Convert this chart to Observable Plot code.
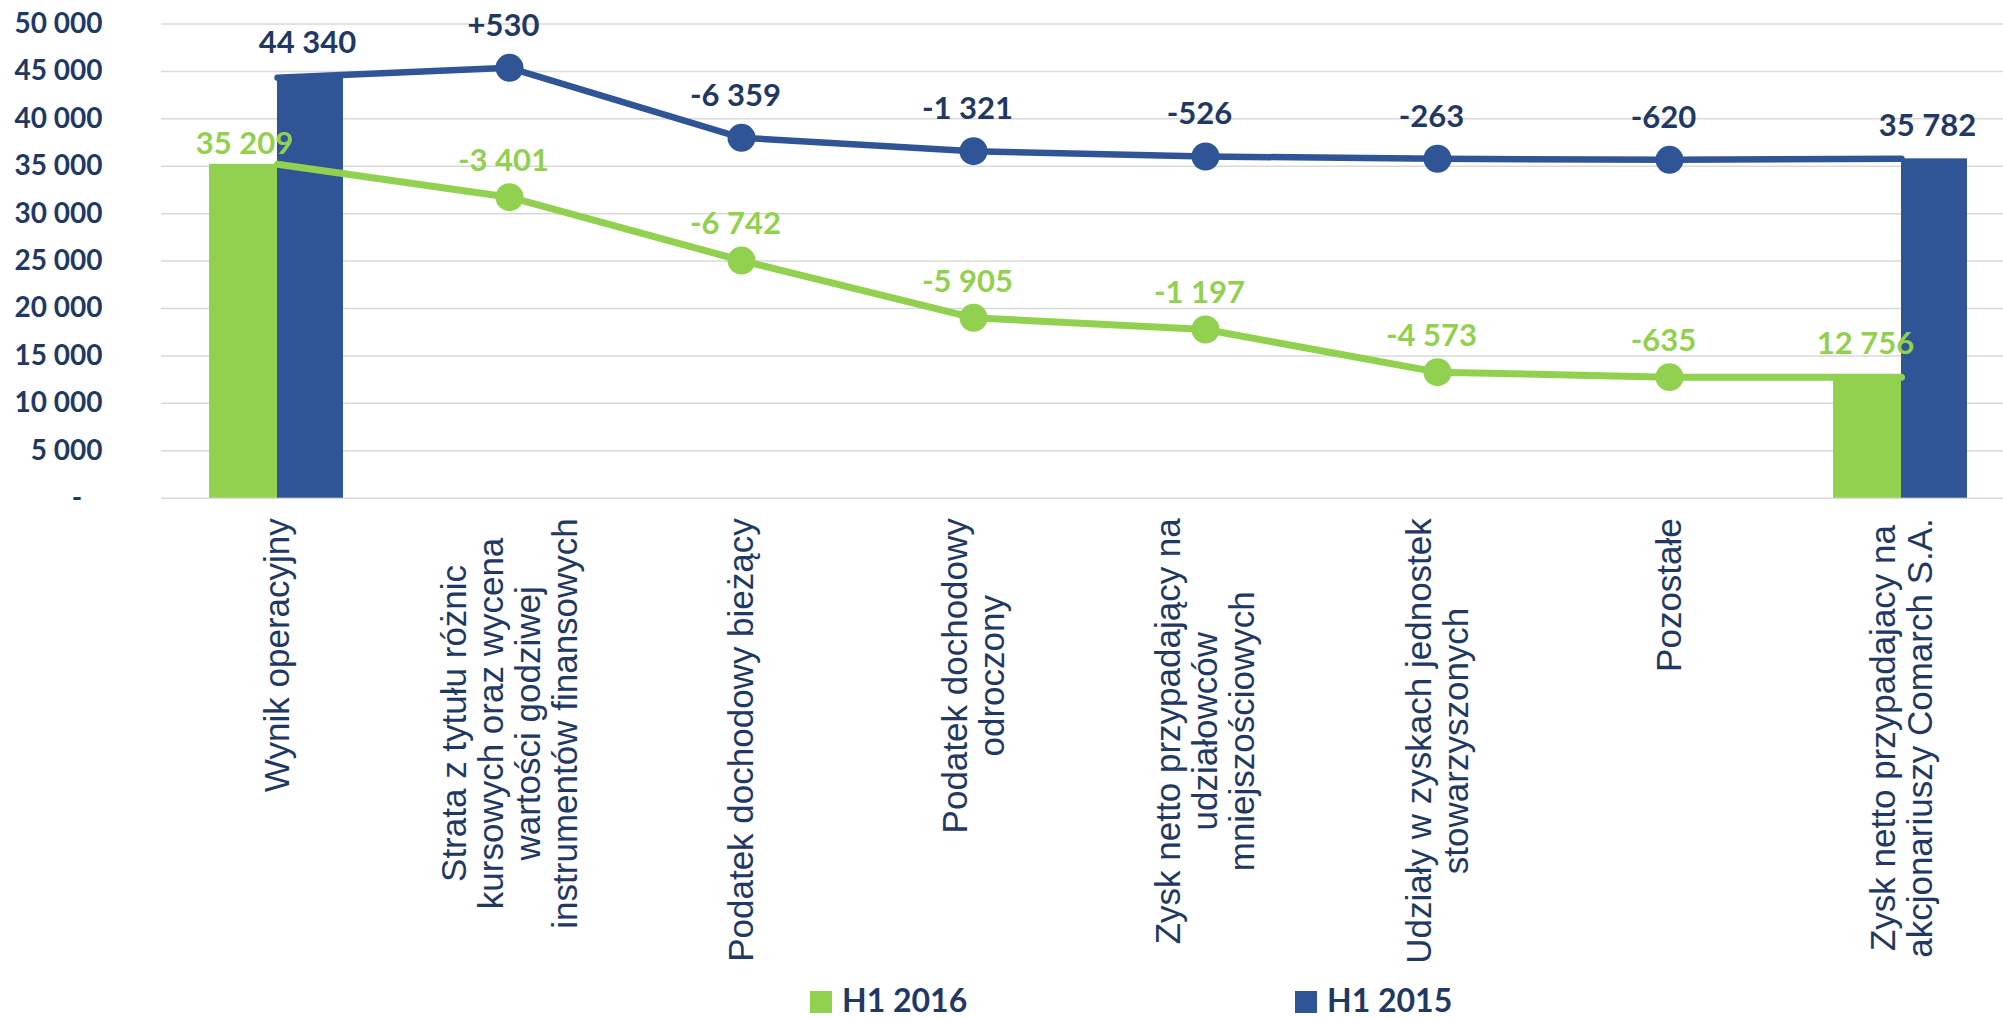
<!DOCTYPE html>
<html><head><meta charset="utf-8">
<script src="https://cdn.jsdelivr.net/npm/d3@7"></script>
<script src="https://cdn.jsdelivr.net/npm/@observablehq/plot@0.6"></script>
<style>
html,body{margin:0;padding:0;background:#fff;overflow:hidden;width:2003px;height:1018px;}
#legend{position:relative;height:38px;width:2003px;font-family:Lato,sans-serif;font-weight:bold;font-size:32px;color:#1F3864;}
#legend .item{position:absolute;top:3px;display:flex;align-items:center;height:34px;}
#legend .sw{width:22px;height:22px;margin-right:10px;margin-top:4px;}
#legend .lb{line-height:34px;}
</style></head>
<body><div id="chart"></div><div id="legend"></div>
<script>
// ---- data ----
const categories = [
  "Wynik operacyjny",
  "Strata z tytułu różnic\nkursowych oraz wycena\nwartości godziwej\ninstrumentów finansowych",
  "Podatek dochodowy bieżący",
  "Podatek dochodowy\nodroczony",
  "Zysk netto przypadający na\nudziałowców\nmniejszościowych",
  "Udziały w zyskach jednostek\nstowarzyszonych",
  "Pozostałe",
  "Zysk netto przypadajacy na\nakcjonariuszy Comarch S.A."
];
const seriesNames = ["H1 2016", "H1 2015"];
const barCategories = [categories[0], categories[7]];
const bars2016 = [35209, 12756];
const bars2015 = [44340, 35782];
const line2016 = [35209, 31740, 25060, 19020, 17790, 13290, 12760, 12756];
const line2015 = [44340, 45380, 38000, 36590, 36030, 35790, 35680, 35782];
const labels2016 = ["35 209", "-3 401", "-6 742", "-5 905", "-1 197", "-4 573", "-635", "12 756"];
const labels2015 = ["44 340", "+530", "-6 359", "-1 321", "-526", "-263", "-620", "35 782"];
const yTicks = [0, 5000, 10000, 15000, 20000, 25000, 30000, 35000, 40000, 45000, 50000];

// ---- styling ----
const GREEN = "#92D050", BLUE = "#2F5597", NAVY = "#1F3864", GRID = "#D9D9D9";
const W = 2003, H = 980, MT = 23.5, MB = H - 497.7, ML = 161;

const fmt = d3.formatLocale({decimal: ",", thousands: " ", grouping: [3], currency: ["", ""]}).format(",d");
const tickFmt = v => v === 0 ? "-\u00a0\u00a0\u00a0" : fmt(v);

const bars16 = barCategories.map((c, i) => ({cat: c, value: bars2016[i]}));
const bars15 = barCategories.map((c, i) => ({cat: c, value: bars2015[i]}));
const pts16 = categories.map((c, i) => ({cat: c, i, value: line2016[i], label: labels2016[i]}));
const pts15 = categories.map((c, i) => ({cat: c, i, value: line2015[i], label: labels2015[i]}));
const mid = d => d.i > 0 && d.i < categories.length - 1;

// measure x labels to center lines as a block whose top sits below the axis
const ctx = document.createElement("canvas").getContext("2d");
const XFONT = 35;
ctx.font = `${XFONT}px "Liberation Sans"`;
const axisBottom = H - MB;
const labelTop = axisBottom + 20;
const xLabels = categories.map(c => ({cat: c, w: d3.max(c.split("\n"), s => ctx.measureText(s).width)}));

const labelText = (data, fill, dx, dy) => Plot.text(data, {
  x: "cat", y: "value", text: "label", fill, dx, dy,
  fontSize: 31, fontWeight: "bold", fontFamily: "Lato"
});

const chart = Plot.plot({
  width: W, height: H,
  marginTop: MT, marginBottom: MB, marginLeft: ML, marginRight: 0,
  style: {fontFamily: "Lato, sans-serif", background: "#fff", overflow: "hidden"},
  x: {type: "band", domain: categories, range: [161, 2017], padding: 0, round: false, axis: null},
  y: {domain: [0, 50000], axis: null, label: null},
  marks: [
    Plot.ruleY(yTicks, {stroke: GRID, strokeWidth: 1.5}),
    Plot.axisY(yTicks, {label: null, tickSize: 0, tickPadding: 59, tickFormat: tickFmt, fontSize: 28, fontWeight: "bold", fill: NAVY, fontFamily: "Lato"}),
    Plot.barY(bars16, {x: "cat", y: "value", fill: GREEN, insetLeft: 48, insetRight: 116}),
    Plot.barY(bars15, {x: "cat", y: "value", fill: BLUE, insetLeft: 116, insetRight: 50}),
    Plot.lineY(pts15, {x: "cat", y: "value", stroke: BLUE, strokeWidth: 6.5, strokeLinecap: "round", strokeLinejoin: "round"}),
    Plot.lineY(pts16, {x: "cat", y: "value", stroke: GREEN, strokeWidth: 7, strokeLinecap: "round", strokeLinejoin: "round"}),
    Plot.dot(pts15.filter(mid), {x: "cat", y: "value", r: 14, fill: BLUE}),
    Plot.dot(pts16.filter(mid), {x: "cat", y: "value", r: 14, fill: GREEN}),
    labelText(pts15.filter(mid), NAVY, -6, -42),
    labelText(pts16.filter(mid), GREEN, -6, -36),
    labelText([pts15[0]], NAVY, 30, -35),
    labelText([pts16[0]], GREEN, -33, -20),
    labelText([pts15[7]], NAVY, 26, -33),
    labelText([pts16[7]], GREEN, -36, -33),
    Plot.text(xLabels, {
      x: "cat",
      y: {value: d => labelTop + d.w / 2, scale: null},
      text: "cat", rotate: -90, textAnchor: "middle", lineAnchor: "middle",
      lineHeight: 1.06, fontSize: XFONT, fontFamily: "Liberation Sans", fill: NAVY
    })
  ]
});
document.getElementById("chart").appendChild(chart);

// legend
const leg = document.getElementById("legend");
const legendPos = [810, 1295];
seriesNames.forEach((name, i) => {
  const it = document.createElement("div");
  it.className = "item";
  it.style.left = legendPos[i] + "px";
  it.innerHTML = `<div class="sw" style="background:${[GREEN, BLUE][i]}"></div><div class="lb">${name}</div>`;
  leg.appendChild(it);
});
</script>
</body></html>
